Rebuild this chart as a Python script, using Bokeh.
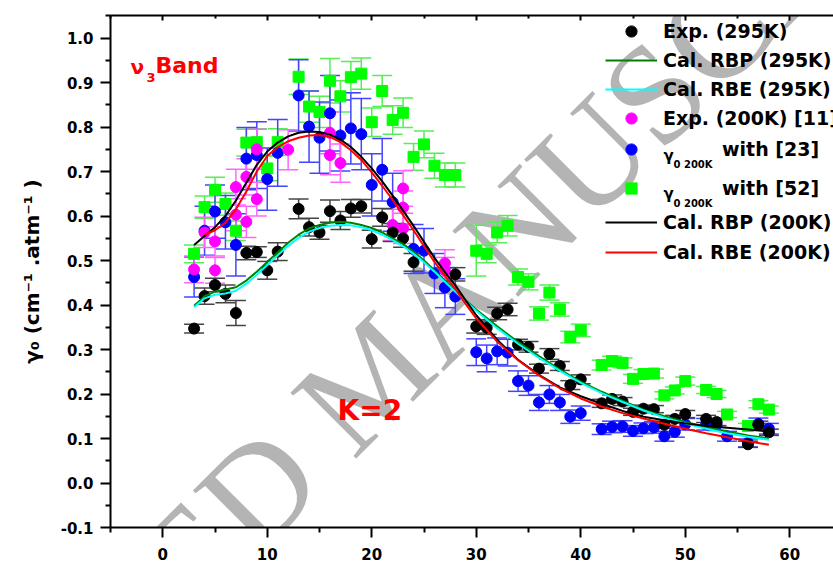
import math
import numpy as np
from bokeh.plotting import figure
from bokeh.models import (ColumnDataSource, Whisker, TeeHead, LinearAxis, FixedTicker,
                          NumeralTickFormatter, Label, Legend, LegendItem, Range1d,
                          CustomLabelingPolicy)
from bokeh.embed import file_html
from bokeh.resources import INLINE

# ---------------- data ----------------
# Exp. (295K)
exp295_J = [3, 4, 5, 6, 7, 8, 9, 10, 11, 13, 14, 15, 16, 17, 18, 19, 20, 21, 22, 23, 24, 28,
            30, 31, 32, 33, 34, 35, 36, 37, 38, 39, 40, 42, 43, 44, 45, 46, 47, 48, 49, 50,
            52, 53, 56, 57, 58]
exp295_g = [0.347, 0.420, 0.445, 0.425, 0.382, 0.517, 0.519, 0.478, 0.520, 0.616, 0.575, 0.563,
            0.611, 0.590, 0.617, 0.622, 0.548, 0.597, 0.563, 0.550, 0.496, 0.469,
            0.352, 0.349, 0.381, 0.390, 0.311, 0.306, 0.257, 0.290, 0.263, 0.220, 0.233,
            0.179, 0.189, 0.183, 0.160, 0.167, 0.166, 0.131, 0.144, 0.155,
            0.144, 0.137, 0.087, 0.131, 0.114]
exp295_err = [0.010, 0.018, 0.015, 0.020, 0.028, 0.015, 0.012, 0.020, 0.020, 0.022, 0.020, 0.015,
              0.025, 0.020, 0.020, 0.015, 0.020, 0.020, 0.020, 0.020, 0.020, 0.015,
              0.015, 0.015, 0.014, 0.014, 0.012, 0.012, 0.010, 0.012, 0.010, 0.010, 0.010,
              0.009, 0.009, 0.009, 0.008, 0.008, 0.008, 0.008, 0.008, 0.008,
              0.008, 0.008, 0.007, 0.008, 0.007]

# Exp. (200K) [11]
exp200_J = [3, 4, 5, 5, 7, 7, 8, 8, 9, 9, 12, 16, 16, 17, 22, 23, 23, 23, 27, 27]
exp200_g = [0.480, 0.563, 0.543, 0.478, 0.665, 0.603, 0.688, 0.587, 0.750, 0.638, 0.749,
            0.787, 0.737, 0.719, 0.580, 0.662, 0.619, 0.572, 0.494, 0.478]
exp200_err = [0.030, 0.034, 0.033, 0.029, 0.040, 0.036, 0.041, 0.035, 0.045, 0.038, 0.045,
              0.047, 0.044, 0.043, 0.035, 0.040, 0.037, 0.034, 0.030, 0.029]

# gamma0 200K with [23]
g23_J = [3, 4, 5, 6, 7, 8, 9, 10, 11, 13, 14, 15, 16, 17, 18, 19, 20, 21, 22, 24, 25, 26, 27, 28,
         30, 31, 32, 33, 34, 35, 36, 37, 38, 39, 40, 42, 43, 44, 45, 46, 47, 48, 49, 50,
         52, 53, 54, 56, 57, 58]
g23_g = [0.463, 0.567, 0.610, 0.586, 0.535, 0.729, 0.737, 0.683, 0.742, 0.871, 0.801, 0.776,
         0.831, 0.781, 0.797, 0.784, 0.670, 0.704, 0.631, 0.526, 0.522, 0.471, 0.439, 0.419,
         0.294, 0.280, 0.296, 0.293, 0.229, 0.219, 0.181, 0.199, 0.181, 0.149, 0.157,
         0.121, 0.126, 0.127, 0.117, 0.123, 0.125, 0.105, 0.115, 0.132,
         0.132, 0.131, 0.105, 0.090, 0.133, 0.122]
g23_err = [0.045, 0.055, 0.060, 0.060, 0.070, 0.070, 0.075, 0.070, 0.075, 0.080, 0.080, 0.080,
           0.085, 0.080, 0.080, 0.080, 0.070, 0.070, 0.065, 0.055, 0.050, 0.045, 0.045, 0.040,
           0.030, 0.030, 0.030, 0.030, 0.023, 0.022, 0.018, 0.020, 0.018, 0.015, 0.016,
           0.012, 0.013, 0.013, 0.012, 0.012, 0.013, 0.011, 0.012, 0.013,
           0.013, 0.013, 0.011, 0.009, 0.013, 0.012]

# gamma0 200K with [52]
g52_J = [3, 4, 5, 6, 7, 8, 9, 10, 11, 13, 14, 15, 16, 17, 18, 19, 20, 21, 22, 23, 24, 25, 26,
         27, 28, 30, 31, 32, 33, 34, 35, 36, 37, 38, 39, 40, 42, 43, 44, 45, 46, 47, 48, 49,
         50, 52, 53, 54, 56, 57, 58]
g52_g = [0.515, 0.620, 0.659, 0.627, 0.567, 0.765, 0.766, 0.707, 0.766, 0.913, 0.846, 0.834,
         0.904, 0.869, 0.912, 0.920, 0.811, 0.881, 0.816, 0.832, 0.733, 0.761, 0.713,
         0.692, 0.692, 0.522, 0.515, 0.563, 0.578, 0.463, 0.452, 0.381, 0.428, 0.390,
         0.328, 0.343, 0.265, 0.274, 0.270, 0.234, 0.245, 0.246, 0.197, 0.208,
         0.229, 0.209, 0.200, 0.154, 0.128, 0.177, 0.165]
g52_err = [0.020, 0.025, 0.028, 0.025, 0.022, 0.030, 0.030, 0.028, 0.030, 0.040, 0.035, 0.035,
           0.050, 0.035, 0.035, 0.035, 0.032, 0.035, 0.032, 0.033, 0.030, 0.030, 0.028,
           0.027, 0.027, 0.057, 0.020, 0.023, 0.023, 0.018, 0.018, 0.015, 0.017, 0.015,
           0.013, 0.014, 0.011, 0.011, 0.011, 0.010, 0.010, 0.010, 0.008, 0.008,
           0.009, 0.008, 0.008, 0.007, 0.006, 0.008, 0.008]

# calculated curves
calc_J = [3, 4, 5, 6, 7, 8, 9, 10, 11, 12, 13, 14, 15, 16, 17, 18, 19, 20, 21, 22, 23, 24, 25,
          26, 27, 28, 29, 30, 32, 34, 36, 38, 40, 42, 44, 46, 48, 50, 52, 54, 56, 58]
rbp295 = [0.398, 0.420, 0.430, 0.435, 0.440, 0.455, 0.475, 0.497, 0.518, 0.540, 0.558, 0.572,
          0.580, 0.585, 0.587, 0.585, 0.580, 0.573, 0.563, 0.550, 0.537, 0.520, 0.500,
          0.478, 0.455, 0.433, 0.410, 0.390, 0.352, 0.317, 0.285, 0.255, 0.228, 0.205,
          0.185, 0.165, 0.150, 0.137, 0.126, 0.116, 0.107, 0.100]
rbe295 = [0.395, 0.415, 0.423, 0.426, 0.432, 0.448, 0.468, 0.490, 0.512, 0.533, 0.551, 0.565,
          0.573, 0.578, 0.580, 0.579, 0.575, 0.568, 0.558, 0.546, 0.532, 0.515, 0.496,
          0.475, 0.452, 0.430, 0.408, 0.387, 0.348, 0.313, 0.281, 0.252, 0.225, 0.202,
          0.182, 0.163, 0.147, 0.134, 0.122, 0.112, 0.104, 0.097]
rbp200 = [0.535, 0.555, 0.575, 0.600, 0.635, 0.675, 0.715, 0.745, 0.765, 0.779, 0.787, 0.790,
          0.789, 0.783, 0.772, 0.755, 0.733, 0.707, 0.678, 0.646, 0.612, 0.578, 0.542,
          0.506, 0.474, 0.444, 0.410, 0.377, 0.322, 0.277, 0.243, 0.215, 0.195, 0.178,
          0.162, 0.149, 0.141, 0.134, 0.128, 0.124, 0.120, 0.116]
rbe200_J = calc_J[1:]
rbe200 = [0.558, 0.568, 0.585, 0.615, 0.655, 0.700, 0.735, 0.755, 0.768, 0.776, 0.781,
          0.782, 0.778, 0.766, 0.748, 0.726, 0.698, 0.668, 0.636, 0.602, 0.568, 0.532,
          0.497, 0.466, 0.436, 0.402, 0.370, 0.318, 0.276, 0.242, 0.213, 0.190, 0.172,
          0.157, 0.145, 0.133, 0.122, 0.112, 0.103, 0.094, 0.086]

x_ticks = [0, 10, 20, 30, 40, 50, 60]
x_minor = [-5, 5, 15, 25, 35, 45, 55, 65]
y_ticks = [-0.1, 0.0, 0.1, 0.2, 0.3, 0.4, 0.5, 0.6, 0.7, 0.8, 0.9, 1.0]
y_minor = [-0.05, 0.05, 0.15, 0.25, 0.35, 0.45, 0.55, 0.65, 0.75, 0.85, 0.95, 1.05]

# ---------------- layout ----------------
W, H = 833, 587
FL, FT, FB = 110, 13, 60
X0, PX_PER_J = -5.0, 10.45
Y0, PX_PER_V = -0.1, 446.7
x_end = X0 + (W - FL) / PX_PER_J
y_end = Y0 + (H - FT - FB) / PX_PER_V
FRAME_BOTTOM = H - FB
FONT = "DejaVu Sans"

p = figure(width=W, height=H, x_range=Range1d(X0, x_end), y_range=Range1d(Y0, y_end),
           output_backend="svg", toolbar_location=None,
           min_border_left=FL, min_border_right=0, min_border_top=FT, min_border_bottom=FB)
p.xgrid.visible = False
p.ygrid.visible = False
p.outline_line_color = None
p.background_fill_color = "white"

bottom_axis = p.below[0]
left_axis = p.left[0]
top_axis = LinearAxis()
p.add_layout(top_axis, "above")

for ax in (bottom_axis, left_axis, top_axis):
    ax.axis_line_width = 2
    ax.axis_line_color = "black"
    ax.major_tick_line_width = 2
    ax.minor_tick_line_width = 2
    ax.major_tick_line_color = "black"
    ax.minor_tick_line_color = "black"
    ax.major_label_text_font = FONT
    ax.major_label_text_font_style = "bold"
    ax.major_label_text_font_size = "15px"
    ax.major_label_text_color = "black"

bottom_axis.ticker = FixedTicker(ticks=x_ticks, minor_ticks=x_minor)
top_axis.ticker = FixedTicker(ticks=x_ticks, minor_ticks=x_minor)
left_axis.ticker = FixedTicker(ticks=y_ticks, minor_ticks=y_minor)
left_axis.formatter = NumeralTickFormatter(format="0.0")

for ax in (bottom_axis, left_axis):
    ax.major_tick_out = 10
    ax.major_tick_in = 0
    ax.minor_tick_out = 5
    ax.minor_tick_in = 0
bottom_axis.major_label_standoff = 10
left_axis.major_label_standoff = 7

left_axis.axis_label = "γ₀ (cm⁻¹ .atm⁻¹ )"
left_axis.axis_label_text_font = FONT
left_axis.axis_label_text_font_style = "bold"
left_axis.axis_label_text_font_size = "20px"
left_axis.axis_label_text_color = "black"
left_axis.axis_label_standoff = 14

# top frame line: ticks only, no labels
top_axis.major_tick_in = 5
top_axis.major_tick_out = 0
top_axis.minor_tick_in = 3
top_axis.minor_tick_out = 0
top_axis.major_label_standoff = 0
top_axis.major_label_policy = CustomLabelingPolicy(code="""
for (const i of indices)
  indices.unset(i)
return indices
""")


def lab(text, cx, cy, size, color="black", angle=0.0, align="left", style="bold",
        font=FONT, level="annotation", alpha=1.0, baseline="alphabetic"):
    """Label placed at canvas pixel (cx, cy)."""
    return Label(x=cx - FL, y=FRAME_BOTTOM - cy, x_units="screen", y_units="screen",
                 text=text, text_font=font, text_font_size=f"{size}px",
                 text_font_style=style, text_color=color, text_alpha=alpha,
                 angle=angle, text_align=align, text_baseline=baseline, level=level)


# watermark of the source
p.add_layout(lab("ACCEPTED MANUSCRIPT", -225, 971, 142, color="#b4b4b4", angle=math.pi / 4,
                 style="normal", font="Liberation Serif", level="underlay"))


def errbars(J, g, e, color):
    src = ColumnDataSource(dict(J=J, lo=np.array(g) - np.array(e), hi=np.array(g) + np.array(e)))
    w = Whisker(source=src, base="J", lower="lo", upper="hi", line_color=color, line_width=1.5,
                lower_head=TeeHead(size=20, line_color=color, line_width=1.5),
                upper_head=TeeHead(size=20, line_color=color, line_width=1.5),
                level="underlay")
    p.add_layout(w)


errbars(g52_J, g52_g, g52_err, "#55ee55")
errbars(g23_J, g23_g, g23_err, "#4444ff")
errbars(exp200_J, exp200_g, exp200_err, "#ff66ff")
errbars(exp295_J, exp295_g, exp295_err, "#444444")

r_g52 = p.scatter(g52_J, g52_g, marker="square", size=11, fill_color="#00ff00", line_color="#00ff00")
r_g23 = p.scatter(g23_J, g23_g, marker="circle", size=11, fill_color="#0000ff", line_color="#0000ff")
r_e200 = p.scatter(exp200_J, exp200_g, marker="circle", size=11, fill_color="#ff00ff", line_color="#ff00ff")
r_e295 = p.scatter(exp295_J, exp295_g, marker="circle", size=11, fill_color="black", line_color="black")

r_rbp295 = p.line(calc_J, rbp295, line_color="#008000", line_width=2)
r_rbe295 = p.line(calc_J, rbe295, line_color="#00ffff", line_width=2)
r_rbp200 = p.line(calc_J, rbp200, line_color="black", line_width=2)
r_rbe200 = p.line(rbe200_J, rbe200, line_color="#ff0000", line_width=2)

# legend: one row per Legend so rows can sit at their own heights
rows = [("Exp. (295K)", r_e295, 30.5, 6),
        ("Cal. RBP (295K)", r_rbp295, 60, 6),
        ("Cal. RBE (295K)", r_rbe295, 89, 6),
        ("Exp. (200K) [11]", r_e200, 117.5, 6),
        ("with [23]", r_g23, 149, 65),
        ("with [52]", r_g52, 187.5, 65),
        ("Cal. RBP (200K)", r_rbp200, 221.5, 6),
        ("Cal. RBE (200K)", r_rbe200, 251.5, 6)]
ROW_H = 28
for text, rend, cy, standoff in rows:
    lg = Legend(items=[LegendItem(label=text, renderers=[rend])],
                location=(605 - FL, FRAME_BOTTOM - (cy + ROW_H / 2)),
                glyph_width=52, glyph_height=ROW_H, label_height=ROW_H, label_standoff=standoff,
                padding=0, margin=0, spacing=0, border_line_alpha=0, background_fill_alpha=0,
                label_text_font=FONT, label_text_font_style="bold", label_text_font_size="19px",
                label_text_color="black")
    p.add_layout(lg)

for dy in (0, 38.5):
    p.add_layout(lab("γ", 663, 155 + dy, 15))
    p.add_layout(lab("0 200K", 673, 164 + dy, 10))

# annotations inside the plot
p.add_layout(lab("ν", 130, 66, 20, color="red"))
p.add_layout(lab("3", 146, 77, 13, color="red"))
p.add_layout(lab("Band", 155, 65, 22, color="red"))
p.add_layout(lab("K=2", 337, 410, 28, color="red"))

# x axis title (the window cuts it, as in the reference)
p.add_layout(lab("J", 472, 592, 20, align="center"))

open("out.html", "w").write(file_html(p, INLINE))
